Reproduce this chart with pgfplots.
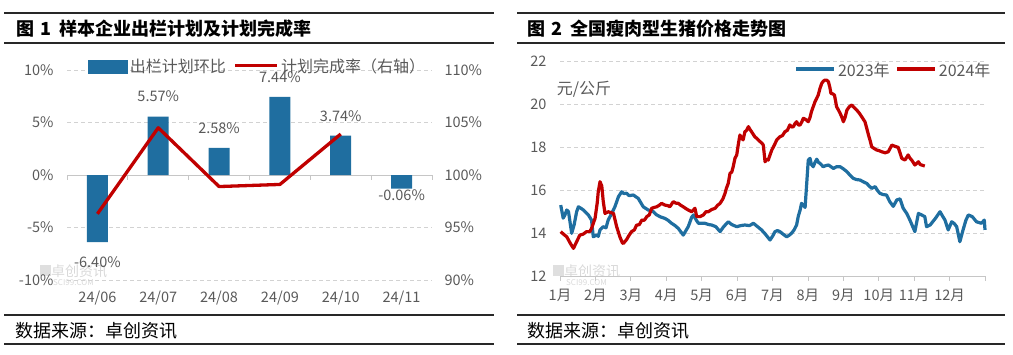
\documentclass[border=0pt]{standalone}
\usepackage{fontspec}
\setmainfont{Noto Sans CJK SC}
\usepackage{pgfplots}
\pgfplotsset{compat=1.18}
\definecolor{barblue}{RGB}{31,110,160}
\definecolor{linered}{RGB}{192,0,0}
\definecolor{ticktext}{RGB}{89,89,89}
\definecolor{gridgray}{RGB}{210,210,210}
\definecolor{framecol}{RGB}{40,40,40}
\newcommand{\tickfont}{\fontsize{14.5}{16}\selectfont}
\newcommand{\cjkfont}{\fontsize{16}{18}\selectfont}
\begin{document}
\begin{tikzpicture}[x=1pt,y=1pt]
\useasboundingbox (0,0) rectangle (1013,354);
% ---------- frames ----------
\draw[framecol, line width=1.6pt] (4,341) -- (494,341);
\draw[framecol, line width=1.2pt] (4,311) -- (494,311);
\draw[framecol, line width=1.2pt] (4,39) -- (494,39);
\draw[framecol, line width=1.2pt] (4,10) -- (494,10);
\draw[framecol, line width=1.6pt] (517,341) -- (1005,341);
\draw[framecol, line width=1.2pt] (517,311) -- (1005,311);
\draw[framecol, line width=1.2pt] (517,39) -- (1005,39);
\draw[framecol, line width=1.2pt] (517,10) -- (1005,10);
\node[anchor=west, inner sep=0pt, font=\fontsize{18}{20}\selectfont\bfseries] at (16,325) {图\hspace{6pt}1\hspace{8pt}样本企业出栏计划及计划完成率};
\node[anchor=west, inner sep=0pt, font=\fontsize{18}{20}\selectfont\bfseries] at (527,325) {图\hspace{6pt}2\hspace{8pt}全国瘦肉型生猪价格走势图};
\node[anchor=west, inner sep=0pt, font=\fontsize{18}{20}\selectfont] at (15,23) {数据来源：卓创资讯};
\node[anchor=west, inner sep=0pt, font=\fontsize{18}{20}\selectfont] at (527,23) {数据来源：卓创资讯};
% watermarks
\node[anchor=west, inner sep=0pt, text=gray!30, font=\fontsize{14}{15}\selectfont] at (40,83) {\textcolor{gray!25}{\rule{11pt}{11pt}}卓创资讯};
\node[anchor=west, inner sep=0pt, text=gray!30, font=\fontsize{8}{9}\selectfont] at (53,71) {SCI99.COM};
\node[anchor=west, inner sep=0pt, text=gray!30, font=\fontsize{14}{15}\selectfont] at (553,83) {\textcolor{gray!25}{\rule{11pt}{11pt}}卓创资讯};
\node[anchor=west, inner sep=0pt, text=gray!30, font=\fontsize{8}{9}\selectfont] at (566,71) {SCI99.COM};

% ---------- left chart: bars ----------
\begin{axis}[
  at={(67pt,74pt)}, anchor=south west, scale only axis,
  width=365pt, height=210pt,
  xmin=-0.5, xmax=5.5, ymin=-10, ymax=10,
  axis line style={draw=none},
  xtick={0,1,2,3,4,5},
  xticklabels={24/06,24/07,24/08,24/09,24/10,24/11},
  ytick={-10,-5,0,5,10},
  yticklabels={-10\%,-5\%,0\%,5\%,10\%},
  major tick length=0pt,
  ymajorgrids,
  grid style={gridgray, dash pattern=on 4pt off 3pt, line width=0.8pt},
  tick label style={font=\tickfont, text=ticktext},
  yticklabel style={xshift=-10pt},
  xticklabel style={yshift=-7pt},
  clip=false,
]
\draw[gray!45, line width=1pt] (axis cs:-0.5,0) -- (axis cs:5.5,0);
\pgfplotsinvokeforeach{-0.5,0.5,1.5,2.5,3.5,4.5,5.5}{
  \draw[gray!45, line width=0.8pt] (axis cs:#1,0) -- ++(0pt,-5pt);
}
\addplot[ybar, bar width=21pt, fill=barblue, draw=none] coordinates {
  (0,-6.40) (1,5.57) (2,2.58) (3,7.44) (4,3.74) (5,-1.3)
};
\addplot[draw=none, mark=none, nodes near coords, point meta=explicit symbolic,
  nodes near coords style={anchor=center, font=\tickfont, text=ticktext}] coordinates {
  (0,-8.3)[-6.40\%] (1,7.47)[5.57\%] (2,4.48)[2.58\%] (3,9.34)[7.44\%] (4,5.64)[3.74\%] (5,-1.96)[-0.06\%]
};
\end{axis}

% ---------- left chart: line on right axis ----------
\begin{axis}[
  at={(67pt,74pt)}, anchor=south west, scale only axis,
  width=365pt, height=210pt,
  xmin=-0.5, xmax=5.5, ymin=90, ymax=110,
  axis y line*=right, axis x line=none,
  axis line style={draw=none},
  ytick={90,95,100,105,110},
  yticklabels={90\%,95\%,100\%,105\%,110\%},
  major tick length=0pt,
  tick label style={font=\tickfont, text=ticktext},
  yticklabel style={xshift=9pt},
  clip=false,
  legend columns=2,
  legend style={at={(0.058,1.017)}, anchor=west, draw=none, fill=none,
    font=\cjkfont, text=ticktext, inner sep=0pt,
    /tikz/every even column/.append style={column sep=6pt}},
  legend cell align=left,
]
\addlegendimage{legend image code/.code={\fill[barblue] (0pt,-6.5pt) rectangle (39pt,6.5pt);}}
\addlegendentry{出栏计划环比}
\addplot[linered, line width=3.3pt, line join=round, mark=none,
  legend image code/.code={\draw[linered, line width=3.3pt] (0pt,1pt) -- (42pt,1pt);}]
  coordinates {(0,96.3) (1,104.5) (2,98.9) (3,99.1) (4,103.9)};
\addlegendentry{计划完成率（右轴）}
\end{axis}

% ---------- right chart ----------
\begin{axis}[
  at={(560pt,78pt)}, anchor=south west, scale only axis,
  width=425pt, height=214.3pt,
  xmin=0, xmax=12, ymin=12, ymax=22,
  axis line style={draw=none},
  xtick={0,1,2,3,4,5,6,7,8,9,10,11},
  xticklabels={1月,2月,3月,4月,5月,6月,7月,8月,9月,10月,11月,12月},
  ytick={12,14,16,18,20,22},
  yticklabels={12,14,16,18,20,22},
  major tick length=0pt,
  ymajorgrids,
  grid style={gridgray, dash pattern=on 4pt off 3pt, line width=0.8pt},
  tick label style={font=\tickfont, text=ticktext},
  yticklabel style={xshift=-10pt},
  xticklabel style={yshift=-10pt},
  clip=false,
  legend columns=2,
  legend style={at={(1.018,0.961)}, anchor=east, draw=none, fill=none,
    font=\cjkfont, text=ticktext, inner sep=0pt,
    /tikz/every even column/.append style={column sep=4pt}},
  legend cell align=left,
]
\draw[gray!45, line width=1pt] (axis cs:0,12) -- (axis cs:12,12);
\pgfplotsinvokeforeach{0,1,2,3,4,5,6,7,8,9,10,11,12}{
  \draw[gray!45, line width=0.8pt] (axis cs:#1,12) -- ++(0pt,-5pt);
}
\node[anchor=west, inner sep=0pt, font=\cjkfont, text=ticktext] at (rel axis cs:-0.008,0.873) {元/公斤};
\addplot[barblue, line width=3.2pt, line join=round, mark=none,
  legend image code/.code={\draw[barblue, line width=3.3pt] (0pt,1pt) -- (38pt,1pt);}]
coordinates {
(0.02,15.31) (0.09,14.70) (0.14,14.85) (0.19,15.08) (0.24,15.00) (0.33,13.99)
(0.40,14.40) (0.47,15.00) (0.52,15.23) (0.60,15.15) (0.66,15.08) (0.80,14.85)
(0.89,14.61) (0.94,13.83) (1.035,13.91) (1.08,13.85) (1.13,14.15) (1.22,14.30)
(1.30,14.25) (1.36,14.61) (1.46,14.92) (1.55,15.23) (1.65,15.70) (1.74,15.93)
(1.80,15.85) (1.88,15.86) (1.95,15.75) (2.07,15.78) (2.14,15.70) (2.21,15.62)
(2.35,15.23) (2.49,15.08) (2.60,15.05) (2.73,14.85) (2.85,14.75) (2.96,14.69)
(3.05,14.60) (3.15,14.46) (3.25,14.35) (3.34,14.22) (3.48,13.91) (3.62,14.30)
(3.72,14.75) (3.77,14.85) (3.85,14.60) (3.91,14.46) (4.09,14.46) (4.20,14.40)
(4.28,14.38) (4.40,14.30) (4.52,14.07) (4.62,14.30) (4.75,14.53) (4.85,14.40)
(4.99,14.30) (5.10,14.35) (5.22,14.38) (5.35,14.35) (5.46,14.46) (5.58,14.30)
(5.69,14.15) (5.80,13.95) (5.93,13.68) (6.00,13.85) (6.07,14.07) (6.14,14.12)
(6.21,14.07) (6.30,13.95) (6.40,13.83) (6.47,13.90) (6.54,14.00) (6.61,14.15)
(6.68,14.38) (6.73,14.80) (6.78,15.08) (6.82,15.39) (6.87,15.30) (6.92,15.20)
(6.96,16.17) (7.01,17.41) (7.06,17.49) (7.10,17.20) (7.15,17.10) (7.20,17.30)
(7.25,17.45) (7.30,17.30) (7.34,17.26) (7.43,17.10) (7.50,17.15) (7.58,17.18)
(7.65,17.10) (7.72,17.02) (7.81,17.10) (7.91,17.10) (8.00,17.00) (8.10,16.87)
(8.19,16.70) (8.28,16.56) (8.37,16.50) (8.47,16.48) (8.56,16.40) (8.66,16.32)
(8.73,16.20) (8.80,16.09) (8.90,16.17) (8.96,16.00) (9.03,15.86) (9.12,15.80)
(9.22,15.78) (9.31,15.47) (9.41,15.25) (9.51,15.55) (9.60,15.60) (9.69,15.16)
(9.79,14.92) (9.88,14.61) (9.96,14.30) (10.02,14.07) (10.07,14.50) (10.12,14.92)
(10.21,14.85) (10.30,14.77) (10.35,14.30) (10.45,14.38) (10.60,14.69) (10.73,15.00)
(10.80,14.80) (10.87,14.61) (10.96,14.15) (11.06,14.53) (11.13,14.45) (11.20,14.30)
(11.29,13.60) (11.38,14.15) (11.46,14.60) (11.53,14.85) (11.64,14.77) (11.76,14.53)
(11.90,14.46) (11.98,14.61) (12.00,14.15)
};
\addlegendentry{2023年}
\addplot[linered, line width=3.2pt, line join=round, mark=none,
  legend image code/.code={\draw[linered, line width=3.3pt] (0pt,1pt) -- (38pt,1pt);}]
coordinates {
(0.02,14.07) (0.10,13.95) (0.19,13.83) (0.30,13.50) (0.38,13.29) (0.47,13.60)
(0.56,13.91) (0.65,13.95) (0.75,14.07) (0.84,14.07) (0.89,14.22) (0.99,14.69)
(1.05,15.40) (1.08,15.93) (1.13,16.40) (1.18,16.20) (1.22,15.50) (1.27,14.92)
(1.36,15.00) (1.45,14.95) (1.51,14.92) (1.60,14.30) (1.69,13.83) (1.76,13.55)
(1.79,13.52) (1.88,13.70) (1.95,13.90) (2.02,14.07) (2.10,14.15) (2.16,14.37)
(2.24,14.40) (2.31,14.61) (2.38,14.60) (2.45,14.77) (2.52,14.85) (2.59,15.16)
(2.66,15.20) (2.73,15.23) (2.80,15.30) (2.87,15.39) (2.96,15.31) (3.05,15.28)
(3.10,15.23) (3.20,15.47) (3.27,15.40) (3.34,15.39) (3.41,15.30) (3.48,15.23)
(3.55,15.15) (3.62,15.08) (3.72,15.00) (3.81,15.16) (3.86,14.77) (3.95,14.77)
(4.05,14.85) (4.12,15.00) (4.19,15.00) (4.28,15.10) (4.38,15.16) (4.45,15.30)
(4.52,15.39) (4.60,15.60) (4.66,15.86) (4.70,16.10) (4.75,16.32) (4.80,16.79)
(4.85,16.85) (4.89,17.10) (4.94,17.49) (4.99,17.65) (5.04,18.20) (5.08,18.58)
(5.12,18.45) (5.17,18.35) (5.22,18.73) (5.27,18.80) (5.32,18.97) (5.36,18.85)
(5.41,18.73) (5.46,18.60) (5.50,18.50) (5.57,18.40) (5.65,18.27) (5.70,18.20)
(5.74,18.11) (5.79,17.33) (5.84,17.45) (5.88,17.41) (5.93,17.65) (5.98,17.88)
(6.05,18.10) (6.12,18.35) (6.21,18.50) (6.28,18.55) (6.35,18.73) (6.42,18.80)
(6.49,19.05) (6.54,18.95) (6.59,18.97) (6.63,19.10) (6.68,19.20) (6.73,19.05)
(6.78,19.05) (6.83,19.20) (6.87,19.36) (6.94,19.30) (7.01,19.20) (7.06,19.40)
(7.10,19.67) (7.15,19.90) (7.20,20.13) (7.25,20.30) (7.29,20.44) (7.34,20.75)
(7.39,20.99) (7.44,21.10) (7.48,21.14) (7.53,21.14) (7.58,21.06) (7.62,20.80)
(7.65,20.52) (7.70,20.50) (7.75,20.44) (7.81,19.90) (7.86,19.75) (7.91,19.59)
(7.96,19.40) (8.00,19.20) (8.05,19.40) (8.10,19.74) (8.17,19.90) (8.24,19.98)
(8.31,19.85) (8.38,19.74) (8.45,19.60) (8.52,19.43) (8.57,19.30) (8.61,19.20)
(8.66,18.90) (8.71,18.58) (8.76,18.30) (8.80,18.03) (8.87,17.95) (8.94,17.88)
(9.01,17.85) (9.08,17.80) (9.18,17.75) (9.27,17.80) (9.37,18.11) (9.46,18.05)
(9.55,18.00) (9.60,17.75) (9.65,17.49) (9.74,17.41) (9.83,17.65) (9.88,17.50)
(9.93,17.41) (10.02,17.18) (10.07,17.25) (10.12,17.33) (10.17,17.20) (10.21,17.18)
(10.30,17.13)
};
\addlegendentry{2024年}
\end{axis}
\end{tikzpicture}
\end{document}
